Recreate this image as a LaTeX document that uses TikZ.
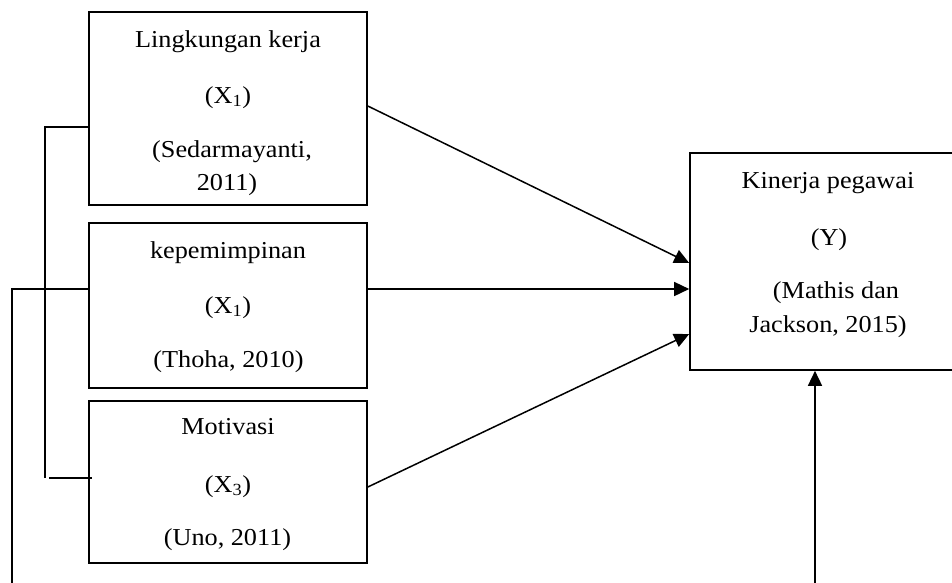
\documentclass[tikz,border=0pt]{standalone}
\usepackage{fontspec}
\setmainfont{Liberation Serif}[FakeStretch=1.08]
\usetikzlibrary{arrows.meta}
\tikzset{
  box/.style={draw, line width=1.6pt, rectangle, inner sep=0pt},
  txt/.style={anchor=base, inner sep=0pt, font=\fontsize{24.3}{28}\selectfont},
  conn/.style={line width=1.5pt},
  arr/.style={line width=1.5pt, -{Triangle[length=15pt,width=14pt]}}
}
\begin{document}
\begin{tikzpicture}[x=1pt,y=-1pt]
\useasboundingbox (0,0) rectangle (952,582);
\fill[white] (0,0) rectangle (952,582);
\clip (0,0) rectangle (952,582);
% boxes
\node[box, minimum width=278pt, minimum height=193pt] (b1) at (228,108.5) {};
\node[box, minimum width=278pt, minimum height=165pt] (b2) at (228,305.5) {};
\node[box, minimum width=278pt, minimum height=162pt] (b3) at (228,482) {};
\node[box, minimum width=276pt, minimum height=217pt] (y) at (828,261.5) {};
% texts
\node[txt] (t11) at (228,47) {Lingkungan kerja};
\node[txt] (t12) at (228,103) {(X\textsubscript{1})};
\node[txt] (t13) at (232,157) {(Sedarmayanti,};
\node[txt] (t14) at (227,190) {2011)};
\node[txt] (t21) at (228,258) {kepemimpinan};
\node[txt] (t22) at (228,313) {(X\textsubscript{1})};
\node[txt] (t23) at (228.5,367) {(Thoha, 2010)};
\node[txt] (t31) at (228,434) {Motivasi};
\node[txt] (t32) at (228,492) {(X\textsubscript{3})};
\node[txt] (t33) at (227.5,545) {(Uno, 2011)};
\node[txt] (ty1) at (828,188) {Kinerja pegawai};
\node[txt] (ty2) at (829,245) {(Y)};
\node[txt] (ty3) at (836,298) {(Mathis dan};
\node[txt] (ty4) at (828,332) {Jackson, 2015)};
% arrows to Y
\draw[arr] ([yshift=2.5pt]b1.east) -- ([yshift=-1.5pt]y.west);
\draw[arr] ([yshift=16.5pt]b2.east) -- ([yshift=-27.5pt]y.west);
\draw[arr] ([yshift=-5pt]b3.east) -- ([yshift=-72.5pt]y.west);
\coordinate (yb) at (815,590);
\draw[arr] (yb) -- ([xshift=-13pt]y.south);
% left bracket
\coordinate (k1) at (45,478);
\coordinate (k2) at (49,478);
\draw[conn] ([yshift=-18.5pt]b1.west) -| (k1);
\draw[conn] (k2) -- ([xshift=4pt,yshift=4pt]b3.west);
% outer left line
\coordinate (k3) at (12,590);
\draw[conn] ([yshift=16.5pt]b2.west) -| (k3);
\end{tikzpicture}
\end{document}
